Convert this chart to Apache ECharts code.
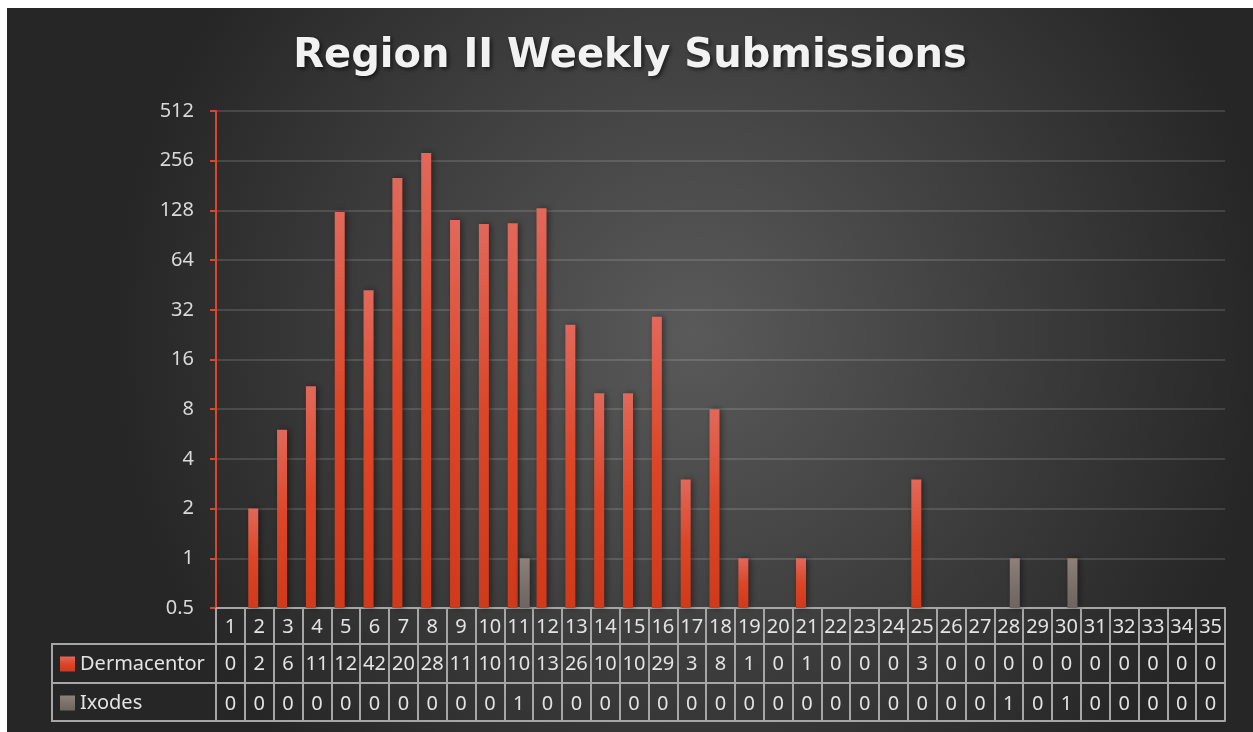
<!DOCTYPE html>
<html>
<head>
<meta charset="utf-8">
<script src="https://cdn.jsdelivr.net/npm/echarts@6.0.0/dist/echarts.min.js"></script>
<style>
  html, body { margin: 0; padding: 0; background: #fff; }
  #chart { position: absolute; left: 7px; top: 8px; width: 1246px; height: 724px; }
</style>
</head>
<body>
<div id="chart"></div>
<script>
// week numbers (table header)
const weeks = ['1','2','3','4','5','6','7','8','9','10','11','12','13','14','15','16','17','18',
  '19','20','21','22','23','24','25','26','27','28','29','30','31','32','33','34','35'];
// submissions per week (table cells are clipped in the original)
const dermacentor = [0, 2, 6, 11, 125, 42, 201, 285, 112, 106, 107, 132, 26, 10, 10, 29, 3, 8,
  1, 0, 1, 0, 0, 0, 3, 0, 0, 0, 0, 0, 0, 0, 0, 0, 0];
const ixodes = [0, 0, 0, 0, 0, 0, 0, 0, 0, 0, 1, 0, 0, 0, 0, 0, 0, 0,
  0, 0, 0, 0, 0, 0, 0, 0, 0, 1, 0, 1, 0, 0, 0, 0, 0];

const FONT = 'Noto Sans';
const TXT = '#e3e3e3';
const LINE = '#a6a6a6';

const chart = echarts.init(document.getElementById('chart'));

// zero can't sit on a log axis, leave those weeks empty
const logData = arr => arr.map(v => (v > 0 ? v : null));

const grad = (top, mid, bottom) => new echarts.graphic.LinearGradient(0, 0, 0, 1, [
  { offset: 0, color: top },
  { offset: 0.5, color: mid },
  { offset: 1, color: bottom }
]);

// one table row = one extra x axis pushed down with offset
const tableRow = (offset, margin, values) => ({
  type: 'category',
  data: weeks,
  position: 'bottom',
  offset: offset,
  axisLine: { show: true, lineStyle: { color: LINE, width: 2 } },
  axisTick: { show: false },
  splitLine: { show: false },
  axisLabel: values ? {
    interval: 0,
    margin: margin,
    verticalAlign: 'middle',
    color: TXT,
    fontSize: 20,
    fontFamily: FONT,
    width: 28,
    overflow: 'truncate',
    ellipsis: '',
    formatter: (v, i) => String(values[i])
  } : { show: false }
});

const option = {
  backgroundColor: {
    type: 'radial', x: 0.55, y: 0.45, r: 0.8,
    colorStops: [
      { offset: 0, color: '#5a5a5a' },
      { offset: 1, color: '#262626' }
    ]
  },
  title: {
    text: 'Region II Weekly Submissions',
    left: 'center',
    top: 29,
    padding: 0,
    textStyle: {
      color: '#f2f2f2',
      fontSize: 40,
      fontWeight: 'bold',
      fontFamily: 'DejaVu Sans',
      textShadowColor: 'rgba(0,0,0,0.6)',
      textShadowBlur: 4,
      textShadowOffsetX: 2,
      textShadowOffsetY: 2
    }
  },
  legend: {
    orient: 'vertical',
    left: 53,
    top: 646,
    padding: 0,
    itemGap: 19,
    itemWidth: 15,
    itemHeight: 15,
    icon: 'rect',
    selectedMode: false,
    textStyle: { color: TXT, fontSize: 20, lineHeight: 20, fontFamily: FONT },
    data: ['Dermacentor', 'Ixodes']
  },
  grid: { left: 209, right: 28, top: 103, bottom: 124 },
  xAxis: [
    {
      type: 'category',
      data: weeks,
      position: 'bottom',
      axisLine: { show: true, lineStyle: { color: LINE, width: 2 } },
      axisTick: { show: true, interval: 0, length: 113, lineStyle: { color: LINE, width: 2 } },
      splitLine: { show: false },
      axisLabel: {
        interval: 0, margin: 19, verticalAlign: 'middle',
        color: TXT, fontSize: 20, fontFamily: FONT
      }
    },
    tableRow(36, 20, dermacentor),
    tableRow(75, 21, ixodes),
    tableRow(113, 0, null)
  ],
  yAxis: {
    type: 'log',
    logBase: 2,
    min: 0.5,
    max: 512,
    interval: 1,
    startValue: 0.5,
    axisLine: { show: true, lineStyle: { color: '#d9482a', width: 2 } },
    axisTick: { show: true, length: 6, lineStyle: { color: '#d9482a', width: 2 } },
    splitLine: { show: true, lineStyle: { color: 'rgba(255,255,255,0.13)', width: 2 } },
    axisLabel: {
      margin: 22,
      color: '#d9d9d9',
      fontSize: 20,
      fontFamily: FONT,
      formatter: v => String(+Number(v).toPrecision(6))
    }
  },
  graphic: [
    {
      type: 'rect',
      shape: { x: 45, y: 636, width: 164, height: 77 },
      style: { fill: 'none', stroke: LINE, lineWidth: 2 }
    },
    {
      type: 'line',
      shape: { x1: 45, y1: 675, x2: 209, y2: 675 },
      style: { stroke: LINE, lineWidth: 2 }
    }
  ],
  series: [
    {
      name: 'Dermacentor',
      type: 'bar',
      data: logData(dermacentor),
      barWidth: 10,
      barGap: '20%',
      itemStyle: {
        color: grad('#e2685a', '#dc4526', '#d0391a'),
        shadowColor: 'rgba(0,0,0,0.45)',
        shadowBlur: 6,
        shadowOffsetX: 2
      }
    },
    {
      name: 'Ixodes',
      type: 'bar',
      data: logData(ixodes),
      barWidth: 10,
      itemStyle: {
        color: grad('#8d817a', '#7c716b', '#6e6560'),
        shadowColor: 'rgba(0,0,0,0.45)',
        shadowBlur: 6,
        shadowOffsetX: 2
      }
    }
  ]
};

chart.setOption(option);
</script>
</body>
</html>
